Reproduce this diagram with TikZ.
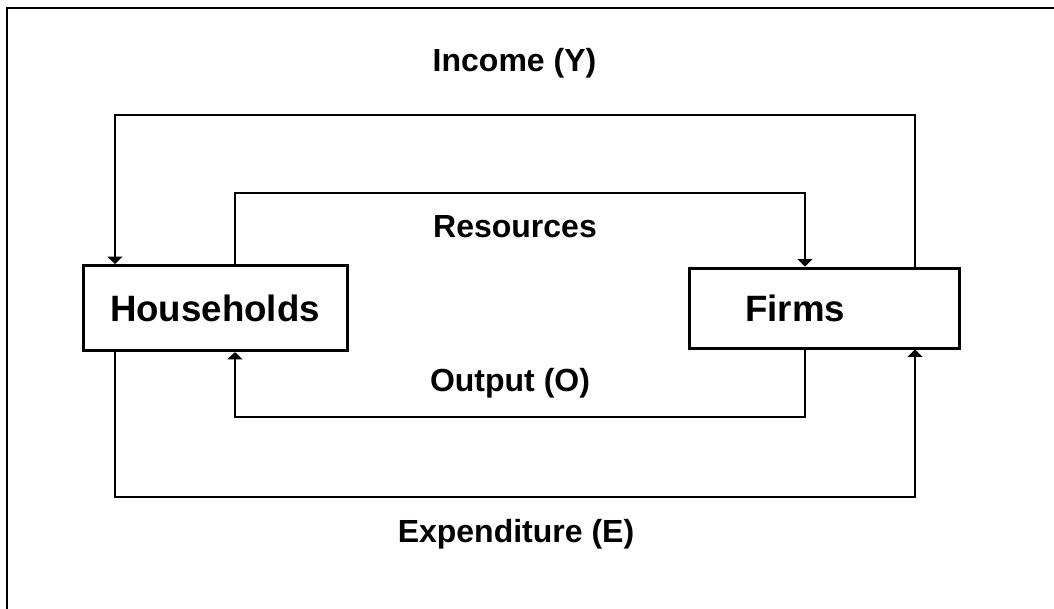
\documentclass[tikz,border=0pt]{standalone}
\usepackage{fontspec}
\setmainfont{Liberation Sans}
\usepackage{tikz}
\usetikzlibrary{arrows.meta}

\tikzset{
  flow/.style={line width=1.6pt,-{Triangle[width=11pt,length=5.5pt]}},
  sector/.style={draw,line width=2.25pt,inner sep=0pt,font=\fontsize{27.5}{32}\selectfont\bfseries},
  lbl/.style={anchor=base,inner sep=0.75pt,font=\fontsize{24}{28}\selectfont\bfseries}
}

\begin{document}
\begin{tikzpicture}[x=0.75pt,y=0.75pt,yscale=-1,xscale=1]
\useasboundingbox (0,0) rectangle (1054,608);

%Frame
\draw[line width=1.5pt] (7,610) -- (7,8) -- (1056,8);

%Shape: Rectangle [id:households]
\node[sector,minimum width=198pt,minimum height=63.75pt] (hh) at (215,308) {Households};
%Shape: Rectangle [id:firms]
\node[sector,minimum width=203pt,minimum height=60pt,text width=119pt,inner xsep=42pt,align=left] (firms) at (824.5,308) {Firms};

%Corners of the loops
\coordinate (yL) at (115,115);
\coordinate (yR) at (915,115);
\coordinate (rL) at (235,193);
\coordinate (rR) at (805,193);
\coordinate (oL) at (235,417);
\coordinate (oR) at (805,417);
\coordinate (eL) at (115,497);
\coordinate (eR) at (915,497);

%Straight Lines [id:income]
\draw[flow] (firms.north -| yR) -- (yR) -- (yL) -- (hh.north -| yL);
%Straight Lines [id:resources]
\draw[flow] (hh.north -| rL) -- (rL) -- (rR) -- (firms.north -| rR);
%Straight Lines [id:output]
\draw[flow] (firms.south -| oR) -- (oR) -- (oL) -- (hh.south -| oL);
%Straight Lines [id:expenditure]
\draw[flow] (hh.south -| eL) -- (eL) -- (eR) -- (firms.south -| eR);

% Text Node
\node[lbl] (inc) at (514.5,71) {Income (Y)};
% Text Node
\node[lbl] (res) at (515,237) {Resources};
% Text Node
\node[lbl] (out) at (510,391) {Output (O)};
% Text Node
\node[lbl] (exp) at (516,542) {Expenditure (E)};

\end{tikzpicture}
\end{document}
